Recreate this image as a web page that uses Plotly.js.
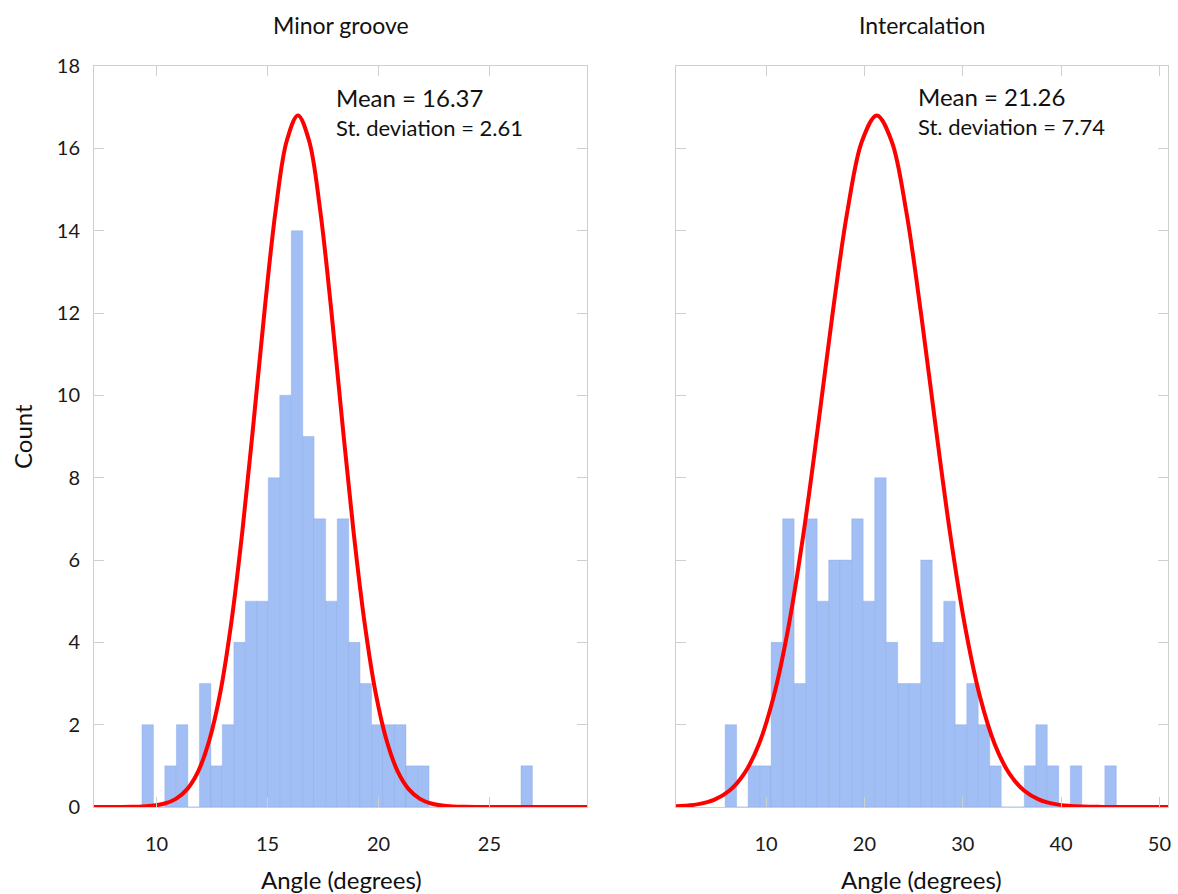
<!DOCTYPE html>
<html>
<head>
<meta charset="utf-8">
<script src="https://cdn.plot.ly/plotly-3.0.1.min.js"></script>
<style>html,body{margin:0;padding:0;background:#fff;}#chart{width:1178px;height:894px;}</style>
</head>
<body>
<div id="chart"></div>
<script>
// ---- Data ----
var minorBinCenters = [9.60,10.12,10.63,11.15,11.67,12.19,12.70,13.22,13.74,14.26,14.77,15.29,15.81,16.33,16.84,17.36,17.88,18.40,18.91,19.43,19.95,20.47,20.98,21.50,22.02,22.54,23.05,23.57,24.09,24.61,25.12,25.64,26.16,26.68];
var minorCounts = [2,0,1,2,0,3,1,2,4,5,5,8,10,14,9,7,5,7,4,3,2,2,2,1,1,0,0,0,0,0,0,0,0,1];
var minorBinWidth = 0.5175;

var interBinCenters = [6.42,7.59,8.76,9.93,11.10,12.27,13.44,14.61,15.78,16.95,18.12,19.29,20.46,21.63,22.80,23.97,25.14,26.31,27.48,28.65,29.82,30.99,32.16,33.33,34.50,35.67,36.84,38.01,39.18,40.35,41.52,42.69,43.86,45.03];
var interCounts = [2,0,1,1,4,7,3,7,5,6,6,7,5,8,4,3,3,6,4,5,2,3,2,1,0,0,1,2,1,0,1,0,0,1];
var interBinWidth = 1.17;

// normal curves as drawn
var minorCurveX = [7.18,8.37,8.87,9.37,9.87,10.37,10.87,11.37,11.87,12.37,12.87,13.37,13.87,14.37,14.87,15.37,15.87,16.37,16.87,17.37,17.87,18.37,18.87,19.37,19.87,20.37,20.87,21.37,21.87,22.37,22.87,23.37,23.87,24.37,29.41];
var minorCurveY = [0,0.0014,0.0044,0.0127,0.0341,0.0853,0.198,0.429,0.861,1.61,2.78,4.49,6.72,9.34,12.08,14.51,16.19,16.8,16.19,14.51,12.08,9.34,6.72,4.49,2.78,1.61,0.861,0.429,0.198,0.0853,0.0341,0.0127,0.0044,0.0014,0];

var interCurveX = [0.81,1.76,3.26,4.76,6.26,7.76,9.26,10.76,12.26,13.76,15.26,16.76,18.26,19.76,21.26,22.76,24.26,25.76,27.26,28.76,30.26,31.76,33.26,34.76,36.26,37.76,39.26,40.76,42.26,43.76,45.26,50.9];
var interCurveY = [0.0157,0.0294,0.0753,0.179,0.393,0.802,1.52,2.67,4.35,6.57,9.21,11.98,14.46,16.18,16.8,16.18,14.46,11.98,9.21,6.57,4.35,2.67,1.52,0.802,0.393,0.179,0.0753,0.0294,0.0107,0.0036,0.0011,0];

var panelTitles = ["Minor groove", "Intercalation"];
var meanTexts = ["Mean = 16.37", "Mean = 21.26"];
var sdTexts = ["St. deviation = 2.61", "St. deviation = 7.74"];
var yTicks = [0,2,4,6,8,10,12,14,16,18];
var minorXTicks = [10,15,20,25];
var interXTicks = [10,20,30,40,50];

// ---- Styling ----
var W = 1178, H = 894;
var FONT = "Lato, 'Open Sans', sans-serif";
var barColor = "rgb(161,191,244)";
var barEdge = "rgba(130,160,225,0.55)";
var curveColor = "rgb(255,0,0)";
function px(x){ return x / W; }
function py(y){ return 1 - y / H; }

var traces = [
  {type:"bar", x:minorBinCenters, y:minorCounts, width:minorBinWidth, xaxis:"x", yaxis:"y",
   marker:{color:barColor, line:{color:barEdge, width:0.6}}},
  {type:"scatter", mode:"lines", x:minorCurveX, y:minorCurveY, xaxis:"x", yaxis:"y",
   line:{color:curveColor, width:4, shape:"spline", smoothing:1}},
  {type:"bar", x:interBinCenters, y:interCounts, width:interBinWidth, xaxis:"x2", yaxis:"y2",
   marker:{color:barColor, line:{color:barEdge, width:0.6}}},
  {type:"scatter", mode:"lines", x:interCurveX, y:interCurveY, xaxis:"x2", yaxis:"y2",
   line:{color:curveColor, width:4, shape:"spline", smoothing:1}}
];

var axCommon = {
  showgrid:false, zeroline:false, showline:true, linecolor:"#cfcfcf", linewidth:1,
  mirror:"ticks", ticks:"inside", ticklen:10, tickcolor:"#cfcfcf", tickwidth:1,
  tickfont:{family:FONT, size:20, color:"#1a1a1a"}, fixedrange:true
};
function ax(extra){ var o = {}; for (var k in axCommon) o[k] = axCommon[k]; for (var k2 in extra) o[k2] = extra[k2]; return o; }

function statText(i){
  return "<span style='font-size:24px'>" + meanTexts[i] + "</span><br>" + sdTexts[i];
}

var yDom = [py(807), py(66)];
var layout = {
  width:W, height:H, margin:{l:0,r:0,t:0,b:0}, paper_bgcolor:"#fff", plot_bgcolor:"#fff",
  showlegend:false, bargap:0,
  xaxis: ax({domain:[px(94), px(587.3)], range:[7.18,29.41], tickmode:"array", tickvals:minorXTicks, ticklabelstandoff:19, anchor:"y"}),
  yaxis: ax({domain:yDom, range:[0,18], tickmode:"array", tickvals:yTicks, ticklabelstandoff:9, anchor:"x"}),
  xaxis2: ax({domain:[px(675.7), px(1168.3)], range:[0.81,50.9], tickmode:"array", tickvals:interXTicks, ticklabelstandoff:19, anchor:"y2"}),
  yaxis2: ax({domain:yDom, range:[0,18], tickmode:"array", tickvals:yTicks, showticklabels:false, anchor:"x2"}),
  annotations: [
    {text:panelTitles[0], xref:"paper", yref:"paper", x:px(341), y:py(25), xanchor:"center", yanchor:"middle", showarrow:false, font:{family:FONT, size:23, color:"#111"}},
    {text:panelTitles[1], xref:"paper", yref:"paper", x:px(922), y:py(25), xanchor:"center", yanchor:"middle", showarrow:false, font:{family:FONT, size:23, color:"#111"}},
    {text:statText(0), xref:"paper", yref:"paper", x:px(334), y:py(112), xanchor:"left", yanchor:"middle", align:"left", showarrow:false, font:{family:FONT, size:22, color:"#111"}},
    {text:statText(1), xref:"paper", yref:"paper", x:px(916), y:py(111), xanchor:"left", yanchor:"middle", align:"left", showarrow:false, font:{family:FONT, size:22, color:"#111"}},
    {text:"Angle (degrees)", xref:"paper", yref:"paper", x:px(341), y:py(879), xanchor:"center", yanchor:"middle", showarrow:false, font:{family:FONT, size:24, color:"#111"}},
    {text:"Angle (degrees)", xref:"paper", yref:"paper", x:px(921), y:py(879), xanchor:"center", yanchor:"middle", showarrow:false, font:{family:FONT, size:24, color:"#111"}},
    {text:"Count", xref:"paper", yref:"paper", x:px(22), y:py(437), xanchor:"center", yanchor:"middle", textangle:-90, showarrow:false, font:{family:FONT, size:24, color:"#111"}}
  ]
};

Plotly.newPlot("chart", traces, layout, {displayModeBar:false, staticPlot:true});
</script>
</body>
</html>
